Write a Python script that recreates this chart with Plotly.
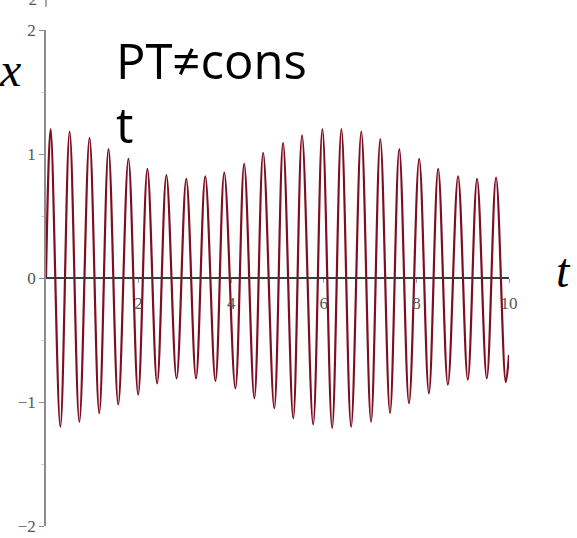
import plotly.graph_objects as go

# extrema of x(t)
t_peak = [0.10, 0.51, 0.94, 1.35, 1.78, 2.19, 2.60, 3.03, 3.44, 3.85, 4.28, 4.69,
          5.12, 5.53, 5.97, 6.38, 6.81, 7.22, 7.63, 8.06, 8.47, 8.90, 9.31, 9.72]
x_peak = [1.20, 1.18, 1.13, 1.04, 0.96, 0.88, 0.83, 0.80, 0.82, 0.85, 0.92, 1.01,
          1.09, 1.15, 1.20, 1.20, 1.18, 1.12, 1.04, 0.96, 0.88, 0.82, 0.80, 0.81]
t_trough = [0.31, 0.72, 1.15, 1.56, 1.99, 2.40, 2.82, 3.24, 3.66, 4.09, 4.50, 4.93,
            5.34, 5.77, 6.18, 6.59, 7.02, 7.43, 7.84, 8.27, 8.68, 9.11, 9.52, 9.93]
x_trough = [-1.20, -1.16, -1.09, -1.02, -0.94, -0.85, -0.81, -0.81, -0.83, -0.89, -0.97, -1.05,
            -1.13, -1.18, -1.21, -1.20, -1.16, -1.09, -1.01, -0.93, -0.86, -0.82, -0.81, -0.84]
t_ends = [0.0, 10.0]
x_ends = [0.0, -0.62]

y_ticks = [-2, -1, 0, 1, 2]
x_ticks = [2, 4, 6, 8, 10]

pts = sorted(zip(t_ends + t_peak + t_trough, x_ends + x_peak + x_trough))
t_vals = [p[0] for p in pts]
x_vals = [p[1] for p in pts]

serif = "Liberation Serif"

fig = go.Figure()
fig.add_trace(go.Scatter(
    x=t_vals, y=x_vals, mode='lines',
    line=dict(color='#7d0f22', width=2.2, shape='spline', smoothing=1),
    showlegend=False, hoverinfo='skip'
))

fig.update_layout(
    width=577, height=538,
    margin=dict(l=46, r=68, t=30, b=12),
    paper_bgcolor='white', plot_bgcolor='white',
    xaxis=dict(
        range=[0, 10], anchor='free', position=0.5, automargin=False,
        showgrid=False, zeroline=False,
        showline=True, linecolor='#3a3a3a', linewidth=1.5,
        tickvals=x_ticks, ticks='outside', ticklen=4, tickcolor='#9a9a9a',
        ticklabelstandoff=6,
        tickfont=dict(family=serif, size=17, color='#555555'),
    ),
    yaxis=dict(
        range=[-2, 2], automargin=False,
        showgrid=False, zeroline=False,
        showline=True, linecolor='#8c8c8c', linewidth=1.5,
        tickvals=y_ticks, ticks='outside', ticklen=5, tickcolor='#8c8c8c',
        minor=dict(tickvals=[-1.5, -0.5, 0.5, 1.5], ticks='outside', ticklen=3, tickcolor='#d0d0d0'),
        tickfont=dict(family=serif, size=17, color='#555555'),
    ),
)

annots = [
    dict(text='<i>x</i>', x=-0.078, y=0.92, font=dict(family=serif, size=48, color='black'),
         xanchor='center', yanchor='middle'),
    dict(text='PT≠cons<br>t', x=0.147, y=0.875, align='left',
         font=dict(family='Open Sans', size=49, color='black'),
         xanchor='left', yanchor='middle'),
    dict(text='<i>t</i>', x=1.117, y=0.515, font=dict(family=serif, size=48, color='black'),
         xanchor='center', yanchor='middle'),
    dict(text='−2', x=-0.015, y=1.062, font=dict(family=serif, size=17, color='#555555'),
         xanchor='right', yanchor='middle'),
]
for a in annots:
    fig.add_annotation(xref='paper', yref='paper', showarrow=False, **a)

fig.add_shape(type='line', xref='paper', yref='paper', x0=0, x1=0, y0=1.047, y1=1.07,
              line=dict(color='#8c8c8c', width=1.5))

fig.write_html("out.html", config={'displayModeBar': False},
               post_script="document.body.style.margin='0';")
